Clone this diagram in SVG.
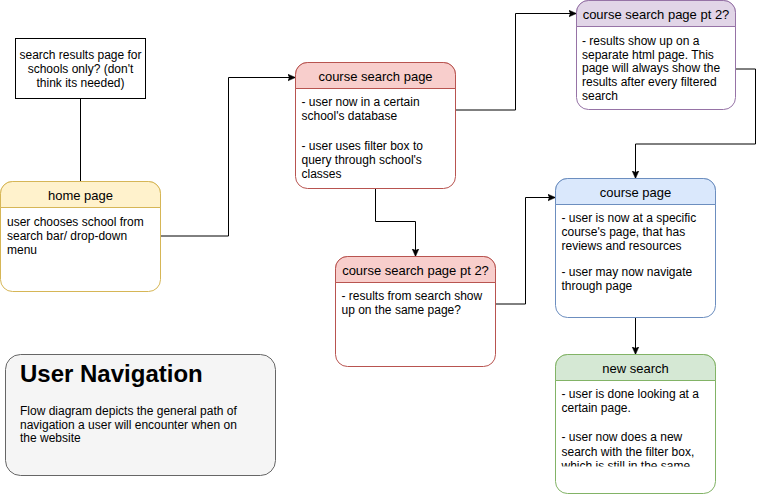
<svg xmlns="http://www.w3.org/2000/svg" width="764" height="494" viewBox="0 0 764 494">
<style>
text{font-family:"Liberation Sans",Arial,Helvetica,sans-serif;fill:#000}
.t{font-size:13px;text-anchor:middle}
.b{font-size:12px}
.c{font-size:12px;text-anchor:middle}
.edge{fill:none;stroke:#000;stroke-width:1}
.box{fill:#fff}
</style>
<defs>
<marker id="arr" markerUnits="userSpaceOnUse" markerWidth="10" markerHeight="10" refX="8" refY="4" orient="auto">
<path d="M0,0.5 L8,4 L0,7.5 L2,4 Z" fill="#000" stroke="#000" stroke-width="0.5"/>
</marker>
<clipPath id="clipNew"><rect x="555" y="381" width="161" height="85.5"/></clipPath>
</defs>

<g id="connectors">
<path class="edge" d="M80.5,98.5 V181.5"/>
<path class="edge" d="M160.5,236 H228.5 V77.5 H295.5" marker-end="url(#arr)"/>
<path class="edge" d="M455.5,110 H515.5 V13.5 H576.5" marker-end="url(#arr)"/>
<path class="edge" d="M735.5,69 H755.5 V144 H635.5 V178.5" marker-end="url(#arr)"/>
<path class="edge" d="M375.5,188.5 V221.5 H415.5 V256.5" marker-end="url(#arr)"/>
<path class="edge" d="M495.5,304 H525.5 V197.5 H555.5" marker-end="url(#arr)"/>
<path class="edge" d="M635.5,317.5 V354.5" marker-end="url(#arr)"/>
</g>

<g id="note">
<rect x="15.5" y="38.5" width="130" height="60" fill="#fff" stroke="#000"/>
<text class="c" x="80.5" y="59">search results page for</text>
<text class="c" x="80.5" y="73">schools only? (don't</text>
<text class="c" x="80.5" y="87">think its needed)</text>
</g>

<g id="home-page">
<rect class="box" x="0.5" y="181.5" width="160" height="110" rx="12" stroke="#d6b656"/>
<path d="M0.5,207.5 V193.5 A12 12 0 0 1 12.5,181.5 H148.5 A12 12 0 0 1 160.5,193.5 V207.5 Z" fill="#fff2cc" stroke="#d6b656"/>
<text class="t" x="80.5" y="200">home page</text>
<text class="b" x="7" y="226">user chooses school from</text>
<text class="b" x="7" y="240">search bar/ drop-down</text>
<text class="b" x="7" y="254">menu</text>
</g>

<g id="course-search-page">
<rect class="box" x="295.5" y="62.5" width="160" height="126" rx="12" stroke="#b85450"/>
<path d="M295.5,88.5 V74.5 A12 12 0 0 1 307.5,62.5 H443.5 A12 12 0 0 1 455.5,74.5 V88.5 Z" fill="#f8cecc" stroke="#b85450"/>
<text class="t" x="375.5" y="81">course search page</text>
<text class="b" x="301.5" y="106">- user now in a certain</text>
<text class="b" x="301.5" y="120">school's database</text>
<text class="b" x="301.5" y="150">- user uses filter box to</text>
<text class="b" x="301.5" y="164">query through school's</text>
<text class="b" x="301.5" y="178">classes</text>
</g>

<g id="course-search-page-pt2-separate">
<rect class="box" x="576.5" y="0.5" width="159" height="109" rx="12" stroke="#9673a6"/>
<path d="M576.5,26.5 V12.5 A12 12 0 0 1 588.5,0.5 H723.5 A12 12 0 0 1 735.5,12.5 V26.5 Z" fill="#e1d5e7" stroke="#9673a6"/>
<text class="t" x="656" y="19">course search page pt 2?</text>
<text class="b" x="582" y="45">- results show up on a</text>
<text class="b" x="582" y="58.7">separate html page. This</text>
<text class="b" x="582" y="72.4">page will always show the</text>
<text class="b" x="582" y="86">results after every filtered</text>
<text class="b" x="582" y="99.7">search</text>
</g>

<g id="course-page">
<rect class="box" x="555.5" y="178.5" width="160" height="139" rx="12" stroke="#6c8ebf"/>
<path d="M555.5,204.5 V190.5 A12 12 0 0 1 567.5,178.5 H703.5 A12 12 0 0 1 715.5,190.5 V204.5 Z" fill="#dae8fc" stroke="#6c8ebf"/>
<text class="t" x="635.5" y="197">course page</text>
<text class="b" x="561.5" y="222">- user is now at a specific</text>
<text class="b" x="561.5" y="236">course's page, that has</text>
<text class="b" x="561.5" y="250">reviews and resources</text>
<text class="b" x="561.5" y="276">- user may now navigate</text>
<text class="b" x="561.5" y="290">through page</text>
</g>

<g id="course-search-page-pt2-same">
<rect class="box" x="335.5" y="256.5" width="160" height="110" rx="12" stroke="#b85450"/>
<path d="M335.5,282.5 V268.5 A12 12 0 0 1 347.5,256.5 H483.5 A12 12 0 0 1 495.5,268.5 V282.5 Z" fill="#f8cecc" stroke="#b85450"/>
<text class="t" x="415.5" y="275">course search page pt 2?</text>
<text class="b" x="341.5" y="300">- results from search show</text>
<text class="b" x="341.5" y="314">up on the same page?</text>
</g>

<g id="new-search">
<rect class="box" x="555.5" y="354.5" width="160" height="139" rx="12" stroke="#82b366"/>
<path d="M555.5,380.5 V366.5 A12 12 0 0 1 567.5,354.5 H703.5 A12 12 0 0 1 715.5,366.5 V380.5 Z" fill="#d5e8d4" stroke="#82b366"/>
<text class="t" x="635.5" y="373">new search</text>
<g clip-path="url(#clipNew)">
<text class="b" x="561.5" y="398">- user is done looking at a</text>
<text class="b" x="561.5" y="412">certain page.</text>
<text class="b" x="561.5" y="441">- user now does a new</text>
<text class="b" x="561.5" y="455.5">search with the filter box,</text>
<text class="b" x="561.5" y="470">which is still in the same</text>
</g>
</g>

<g id="user-navigation">
<rect x="5.5" y="354.5" width="270" height="121" rx="15" fill="#f5f5f5" stroke="#666666"/>
<text x="20" y="382" style="font-size:24px;font-weight:bold">User Navigation</text>
<text class="b" x="20" y="415">Flow diagram depicts the general path of</text>
<text class="b" x="20" y="428.5">navigation a user will encounter when on</text>
<text class="b" x="20" y="442">the website</text>
</g>
</svg>
